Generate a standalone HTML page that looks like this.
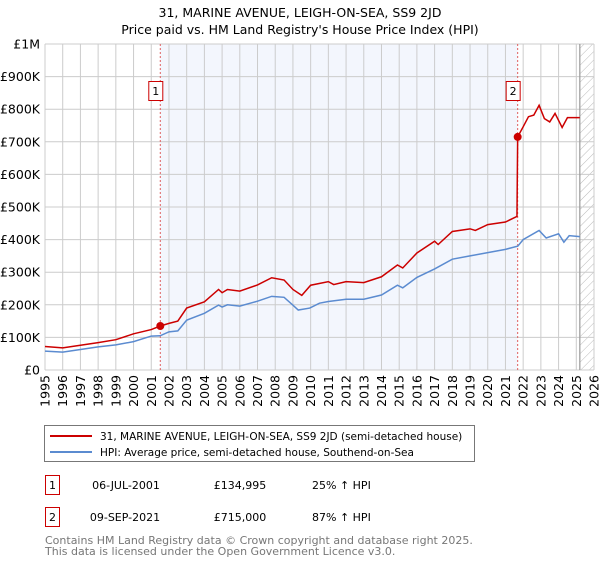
<!DOCTYPE html>
<html><head><meta charset="utf-8"><style>
body{margin:0;background:#fff;font-family:"DejaVu Sans","Liberation Sans",sans-serif;}
svg text{font-family:"DejaVu Sans","Liberation Sans",sans-serif;}
</style></head><body>
<svg id="chart" width="600" height="560" xmlns="http://www.w3.org/2000/svg">
<text x="300" y="17" text-anchor="middle" font-size="12.5">31, MARINE AVENUE, LEIGH-ON-SEA, SS9 2JD</text>
<text x="300" y="34" text-anchor="middle" font-size="12.5">Price paid vs. HM Land Registry's House Price Index (HPI)</text>
<defs><pattern id="hatch" width="6" height="6" patternUnits="userSpaceOnUse" patternTransform="rotate(45)"><line x1="0" y1="0" x2="0" y2="6" stroke="#bbb" stroke-width="1"/></pattern></defs>
<g id="plot"></g>
<g>
<rect x="44.5" y="425.5" width="430" height="36" fill="#fff" stroke="#777"/>
<line x1="50" y1="436" x2="92" y2="436" stroke="#cc0000" stroke-width="2"/>
<text x="100" y="440" font-size="10.5">31, MARINE AVENUE, LEIGH-ON-SEA, SS9 2JD (semi-detached house)</text>
<line x1="50" y1="452" x2="92" y2="452" stroke="#5b8bd0" stroke-width="2"/>
<text x="100" y="456" font-size="10.5">HPI: Average price, semi-detached house, Southend-on-Sea</text>
</g>
<g font-size="11">
<rect x="45.5" y="475.5" width="14" height="19" fill="#fff" stroke="#cc0000"/>
<text x="52.5" y="489" text-anchor="middle">1</text>
<text x="126" y="489" text-anchor="middle">06-JUL-2001</text>
<text x="240" y="489" text-anchor="middle">£134,995</text>
<text x="312" y="489">25% ↑ HPI</text>
<rect x="45.5" y="507.5" width="14" height="19" fill="#fff" stroke="#cc0000"/>
<text x="52.5" y="521" text-anchor="middle">2</text>
<text x="125" y="521" text-anchor="middle">09-SEP-2021</text>
<text x="240" y="521" text-anchor="middle">£715,000</text>
<text x="312" y="521">87% ↑ HPI</text>
</g>
<text x="45" y="544" font-size="11" fill="#777">Contains HM Land Registry data © Crown copyright and database right 2025.</text>
<text x="45" y="555" font-size="11" fill="#777">This data is licensed under the Open Government Licence v3.0.</text>
</svg>
<script>
const yTicks=[0,100000,200000,300000,400000,500000,600000,700000,800000,900000,1000000];
const yTickLabels=["£0","£100K","£200K","£300K","£400K","£500K","£600K","£700K","£800K","£900K","£1M"];
const xYears=[1995,1996,1997,1998,1999,2000,2001,2002,2003,2004,2005,2006,2007,2008,2009,2010,2011,2012,2013,2014,2015,2016,2017,2018,2019,2020,2021,2022,2023,2024,2025,2026];
const hpiDates=[1995,1996,1997,1998,1999,2000,2001,2001.5,2002,2002.5,2003,2004,2004.8,2005,2005.3,2006,2007,2007.8,2008.5,2009,2009.3,2009.95,2010.5,2011,2012,2013,2014,2014.9,2015.2,2016,2017,2018,2019,2020,2021,2021.7,2022,2022.9,2023.3,2024,2024.3,2024.6,2025.2];
const hpiValues=[58000,55000,63000,71000,77000,87000,104000,105000,117000,120000,153000,174000,199000,193000,200000,196000,211000,226000,223000,199000,184000,190000,205000,210000,217000,217000,230000,260000,252000,284000,310000,340000,350000,360000,370000,380000,400000,428000,405000,418000,392000,412000,409000];
const priceDates=[1995,1996,1997,1998,1999,2000,2001,2001.51,2002,2002.5,2003,2004,2004.8,2005,2005.3,2006,2007,2007.8,2008.5,2009,2009.5,2010,2011,2011.3,2012,2013,2014,2014.9,2015.2,2016,2017,2017.2,2018,2019,2019.3,2020,2021,2021.65,2021.69,2022,2022.3,2022.6,2022.9,2023.2,2023.5,2023.8,2024.2,2024.5,2025.2];
const priceValues=[72000,68000,76000,84000,93000,111000,124000,134995,143000,150000,190000,209000,247000,237000,247000,242000,261000,283000,276000,247000,229000,260000,271000,262000,271000,268000,286000,322000,313000,359000,395000,385000,425000,433000,428000,446000,454000,471000,715000,746000,777000,782000,812000,771000,761000,787000,744000,774000,774000];
const saleDates=[2001.51,2021.69];
const saleValues=[134995,715000];
const saleLabels=["1","2"];
const dataEnd=2025.2;

const L=45,R=594,T=44,B=370;
const xs=y=>L+(y-1995)/(2026-1995)*(R-L);
const ys=v=>B-v/1000000*(B-T);
const NS="http://www.w3.org/2000/svg";
const g=document.getElementById('plot');
function mk(tag,attrs){const e=document.createElementNS(NS,tag);for(const k in attrs)e.setAttribute(k,attrs[k]);g.appendChild(e);return e;}

let r=mk('rect',{x:xs(saleDates[0]),y:T,width:xs(saleDates[1])-xs(saleDates[0]),height:B-T,fill:'#f3f6fd'});


let h=mk('rect',{x:xs(dataEnd),y:T,width:R-xs(dataEnd),height:B-T,fill:'url(#hatch)'});



yTicks.forEach((v,i)=>{
 let l=mk('line',{x1:L,x2:R,y1:ys(v),y2:ys(v),stroke:'#cccccc','stroke-width':1});
 
 
 let t=mk('text',{x:L-5,y:ys(v)+4.5,'text-anchor':'end','font-size':'12.5'});
 t.textContent=yTickLabels[i];
 
 
});
xYears.forEach(yr=>{
 let l=mk('line',{x1:xs(yr),x2:xs(yr),y1:T,y2:B,stroke:'#cccccc','stroke-width':1});
 
 
 let t=mk('text',{x:0,y:0,'text-anchor':'end','font-size':'12.5',transform:`translate(${xs(yr)+4.5},${B+5}) rotate(-90)`});
 t.textContent=yr;
 
 
});
let ve=mk('line',{x1:xs(dataEnd),x2:xs(dataEnd),y1:T,y2:B,stroke:'#999','stroke-width':1.2});



saleDates.forEach((d,i)=>{
 let l=mk('line',{x1:xs(d),x2:xs(d),y1:T,y2:B,stroke:'#e06060','stroke-width':1,'stroke-dasharray':'2,2'});
 
 
});

let hp=mk('polyline',{points:hpiDates.map((d,i)=>xs(d)+','+ys(hpiValues[i])).join(' '),fill:'none',stroke:'#5b8bd0','stroke-width':1.5});


let pp=mk('polyline',{points:priceDates.map((d,i)=>xs(d)+','+ys(priceValues[i])).join(' '),fill:'none',stroke:'#cc0000','stroke-width':1.5});



saleDates.forEach((d,i)=>{
 let c=mk('circle',{cx:xs(d),cy:ys(saleValues[i]),r:4,fill:'#cc0000'});
 
 
 let b=mk('rect',{x:xs(d)-11.5,y:81.5,width:14,height:19,fill:'#fff',stroke:'#cc0000'});
 
 
 let t=mk('text',{x:xs(d)-4.5,y:95,'text-anchor':'middle','font-size':'11'});
 t.textContent=saleLabels[i];
 
 
});
</script>
</body></html>
